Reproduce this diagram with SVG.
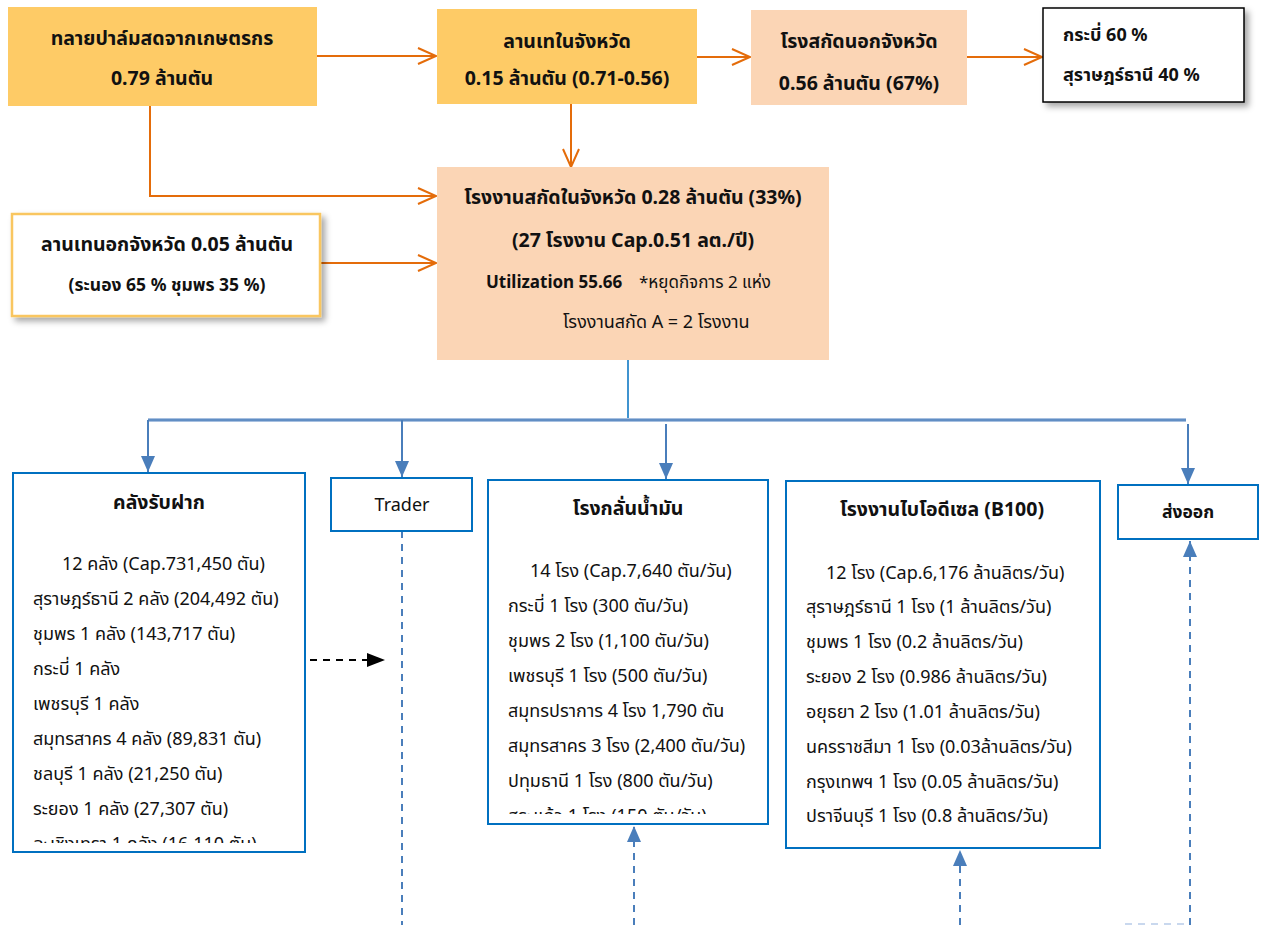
<svg xmlns="http://www.w3.org/2000/svg" width="1263" height="925" viewBox="0 0 1263 925">
<defs>
<style>
text{font-family:"Noto Sans","Noto Sans Thai","DejaVu Sans",sans-serif;fill:#111;}
.b{font-weight:bold;font-size:19.5px;}
.n{font-size:18px;}
.c{text-anchor:middle;}
.or{stroke:#E46C0A;stroke-width:2;fill:none;}
.bl{stroke:#4A7EBB;stroke-width:2;fill:none;}
.dsh{stroke:#4A7EBB;stroke-width:2;fill:none;stroke-dasharray:7,6;}
.bx{fill:#fff;stroke:#0070C0;stroke-width:2;}
</style>
<marker id="ao" markerUnits="userSpaceOnUse" markerWidth="24" markerHeight="20" refX="20" refY="9" orient="auto">
<path d="M2,1 L20,9 L2,17" fill="none" stroke="#E46C0A" stroke-width="2"/>
</marker>
<marker id="ab" markerUnits="userSpaceOnUse" markerWidth="18" markerHeight="16" refX="16" refY="8" orient="auto">
<path d="M0,1 L16,8 L0,15 Z" fill="#4A7EBB"/>
</marker>
<marker id="ak" markerUnits="userSpaceOnUse" markerWidth="20" markerHeight="16" refX="18" refY="8" orient="auto">
<path d="M0,1 L18,8 L0,15 Z" fill="#000"/>
</marker>
<filter id="sh" x="-10%" y="-10%" width="125%" height="130%">
<feDropShadow dx="4" dy="4" stdDeviation="3" flood-color="#000" flood-opacity="0.35"/>
</filter>
<clipPath id="c1"><rect x="14" y="474" width="290" height="369"/></clipPath>
<clipPath id="c2"><rect x="489" y="481" width="278" height="333"/></clipPath>
</defs>
<rect width="1263" height="925" fill="#fff"/>

<g id="connectors">
<line class="or" x1="317" y1="56" x2="436" y2="56" marker-end="url(#ao)"/>
<line class="or" x1="697" y1="57" x2="750" y2="57" marker-end="url(#ao)"/>
<line class="or" x1="967" y1="57" x2="1042" y2="57" marker-end="url(#ao)"/>
<line class="or" x1="571" y1="104" x2="571" y2="167" marker-end="url(#ao)"/>
<polyline class="or" points="150,106 150,196 436,196" marker-end="url(#ao)"/>
<line class="or" x1="320" y1="263" x2="436" y2="263" marker-end="url(#ao)"/>
<line x1="628" y1="351" x2="628" y2="422" stroke="#0070C0" stroke-width="1.5"/>
<line x1="148" y1="420" x2="1186" y2="420" stroke="#A7C0E0" stroke-width="4"/>
<line x1="148" y1="420" x2="1186" y2="420" stroke="#4A7EBB" stroke-width="1.5"/>
<line class="bl" x1="148" y1="420" x2="148" y2="472" marker-end="url(#ab)"/>
<line class="bl" x1="402" y1="420" x2="402" y2="477" marker-end="url(#ab)"/>
<line class="bl" x1="666" y1="424" x2="666" y2="479" marker-end="url(#ab)"/>
<line class="bl" x1="1188" y1="424" x2="1188" y2="484" marker-end="url(#ab)"/>
<line x1="310" y1="660" x2="385" y2="660" stroke="#000" stroke-width="2" stroke-dasharray="7,6" marker-end="url(#ak)"/>
<line class="dsh" x1="402" y1="531" x2="402" y2="925"/>
<line class="dsh" x1="634" y1="925" x2="634" y2="826" marker-end="url(#ab)"/>
<line class="dsh" x1="960" y1="925" x2="960" y2="850" marker-end="url(#ab)"/>
<line class="dsh" x1="1190" y1="925" x2="1190" y2="541" marker-end="url(#ab)"/>
<line x1="1125" y1="924" x2="1188" y2="924" stroke="#C9D8EE" stroke-width="2" stroke-dasharray="7,6"/>
</g>

<g id="n1">
<rect x="8" y="7" width="309" height="99" fill="#FECB66"/>
<text class="b c" x="162" y="45">ทลายปาล์มสดจากเกษตรกร</text>
<text class="b c" x="162" y="85">0.79 ล้านตัน</text>
</g>

<g id="n2">
<rect x="437" y="9" width="260" height="95" fill="#FECB66"/>
<text class="b c" x="567" y="48">ลานเทในจังหวัด</text>
<text class="b c" x="567" y="85">0.15 ล้านตัน (0.71-0.56)</text>
</g>

<g id="n3">
<rect x="751" y="10" width="216" height="95" fill="#FBD5B5"/>
<text class="b c" x="859" y="48">โรงสกัดนอกจังหวัด</text>
<text class="b c" x="859" y="90">0.56 ล้านตัน (67%)</text>
</g>

<g id="n4">
<rect x="1043" y="8" width="201" height="94" fill="#fff" stroke="#000" stroke-width="1.5" filter="url(#sh)"/>
<text class="b" x="1063" y="41" style="font-size:18px">กระบี่ 60 %</text>
<text class="b" x="1063" y="81" style="font-size:18px">สุราษฎร์ธานี 40 %</text>
</g>

<g id="n5">
<rect x="12" y="214" width="308" height="102" fill="#fff" stroke="#F9C660" stroke-width="2.5" filter="url(#sh)"/>
<text class="b c" x="167" y="251">ลานเทนอกจังหวัด 0.05 ล้านตัน</text>
<text class="b c" x="167" y="291" style="font-size:17.5px">(ระนอง 65 % ชุมพร 35 %)</text>
</g>

<g id="n6">
<rect x="437" y="167" width="392" height="193" fill="#FBD5B5"/>
<text class="b c" x="633" y="204">โรงงานสกัดในจังหวัด 0.28 ล้านตัน (33%)</text>
<text class="b c" x="633" y="247">(27 โรงงาน Cap.0.51 ลต./ปี)</text>
<text x="486" y="288"><tspan class="b" style="font-size:17px">Utilization 55.66</tspan><tspan x="639" style="font-size:17px">*หยุดกิจการ 2 แห่ง</tspan></text>
<text x="563" y="328" style="font-size:18px">โรงงานสกัด A = 2 โรงงาน</text>
</g>

<g id="n7">
<rect class="bx" x="13" y="473" width="292" height="379"/>
<text class="b c" x="159" y="509">คลังรับฝาก</text>
<g clip-path="url(#c1)">
<text class="n" x="62" y="570">12 คลัง (Cap.731,450 ตัน)</text>
<text class="n" x="33" y="605">สุราษฎร์ธานี 2 คลัง (204,492 ตัน)</text>
<text class="n" x="33" y="640">ชุมพร 1 คลัง (143,717 ตัน)</text>
<text class="n" x="33" y="675">กระบี่ 1 คลัง</text>
<text class="n" x="33" y="710">เพชรบุรี 1 คลัง</text>
<text class="n" x="33" y="745">สมุทรสาคร 4 คลัง (89,831 ตัน)</text>
<text class="n" x="33" y="780">ชลบุรี 1 คลัง (21,250 ตัน)</text>
<text class="n" x="33" y="815">ระยอง 1 คลัง (27,307 ตัน)</text>
<text class="n" x="33" y="850">ฉะเชิงเทรา 1 คลัง (16,110 ตัน)</text>
</g>
</g>

<g id="n8">
<rect class="bx" x="331" y="478" width="141" height="53"/>
<text class="n c" x="402" y="511">Trader</text>
</g>

<g id="n9">
<rect class="bx" x="488" y="480" width="280" height="344"/>
<text class="b c" x="628" y="515">โรงกลั่นน้ำมัน</text>
<g clip-path="url(#c2)">
<text class="n" x="530" y="577">14 โรง (Cap.7,640 ตัน/วัน)</text>
<text class="n" x="508" y="612">กระบี่ 1 โรง (300 ตัน/วัน)</text>
<text class="n" x="508" y="647">ชุมพร 2 โรง (1,100 ตัน/วัน)</text>
<text class="n" x="508" y="682">เพชรบุรี 1 โรง (500 ตัน/วัน)</text>
<text class="n" x="508" y="717">สมุทรปราการ 4 โรง 1,790 ตัน</text>
<text class="n" x="508" y="752">สมุทรสาคร 3 โรง (2,400 ตัน/วัน)</text>
<text class="n" x="508" y="787">ปทุมธานี 1 โรง (800 ตัน/วัน)</text>
<text class="n" x="508" y="822">สระแก้ว 1 โรง (150 ตัน/วัน)</text>
</g>
</g>

<g id="n10">
<rect class="bx" x="786" y="481" width="314" height="367"/>
<text class="b c" x="942" y="516">โรงงานไบโอดีเซล (B100)</text>
<text class="n" x="826" y="579">12 โรง (Cap.6,176 ล้านลิตร/วัน)</text>
<text class="n" x="806" y="613">สุราษฎร์ธานี 1 โรง (1 ล้านลิตร/วัน)</text>
<text class="n" x="806" y="648">ชุมพร 1 โรง (0.2 ล้านลิตร/วัน)</text>
<text class="n" x="806" y="683">ระยอง 2 โรง (0.986 ล้านลิตร/วัน)</text>
<text class="n" x="806" y="718">อยุธยา 2 โรง (1.01 ล้านลิตร/วัน)</text>
<text class="n" x="806" y="753">นครราชสีมา 1 โรง (0.03ล้านลิตร/วัน)</text>
<text class="n" x="806" y="788">กรุงเทพฯ 1 โรง (0.05 ล้านลิตร/วัน)</text>
<text class="n" x="806" y="822">ปราจีนบุรี 1 โรง (0.8 ล้านลิตร/วัน)</text>
</g>

<g id="n11">
<rect class="bx" x="1118" y="485" width="140" height="54"/>
<text class="b c" x="1188" y="518" style="font-size:17.5px">ส่งออก</text>
</g>
</svg>
